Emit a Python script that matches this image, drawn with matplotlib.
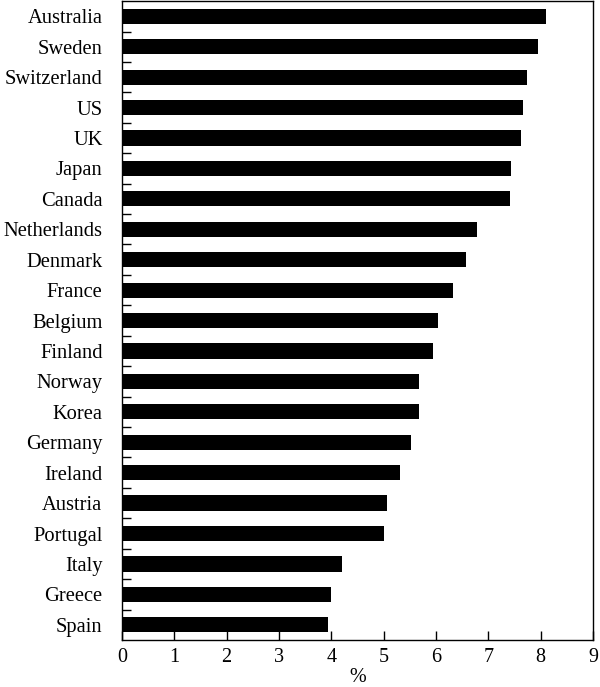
import matplotlib
matplotlib.use("Agg")
import matplotlib.pyplot as plt
import numpy as np

countries = ["Australia", "Sweden", "Switzerland", "US", "UK", "Japan", "Canada",
             "Netherlands", "Denmark", "France", "Belgium", "Finland", "Norway",
             "Korea", "Germany", "Ireland", "Austria", "Portugal", "Italy",
             "Greece", "Spain"]
values = [8.10, 7.94, 7.74, 7.66, 7.62, 7.44, 7.42, 6.79, 6.58, 6.33, 6.03, 5.94,
          5.68, 5.68, 5.53, 5.32, 5.06, 5.00, 4.20, 4.00, 3.93]
xticks = list(range(0, 10))

plt.rcParams['font.family'] = ['Liberation Serif', 'DejaVu Serif']

fig = plt.figure(figsize=(6.0, 6.87), dpi=100)
ax = fig.add_axes([0.2033, 0.0684, 0.785, 0.930])

y = np.arange(len(countries))
ax.barh(y, values, height=0.5, color="black", edgecolor="none")

ax.set_xlim(0, 9)
ax.set_ylim(len(countries) - 0.5, -0.5)
ax.set_xticks(xticks)
ax.set_xticklabels([str(t) for t in xticks], fontsize=14.5)
ax.set_yticks(y)
ax.set_yticklabels(countries, fontsize=14.8)
ax.set_yticks(np.arange(len(countries) - 1) + 0.5, minor=True)
ax.tick_params(axis='y', which='major', length=0, pad=14)
ax.tick_params(axis='y', which='minor', direction='in', length=6.5, width=1, left=True, right=False)
ax.tick_params(axis='x', which='major', direction='in', length=6.5, width=1, pad=6)
ax.set_xlabel("%", fontsize=14.5, labelpad=0.5)

for s in ax.spines.values():
    s.set_linewidth(1)
    s.set_color("black")

fig.savefig("out.png", dpi=100)
